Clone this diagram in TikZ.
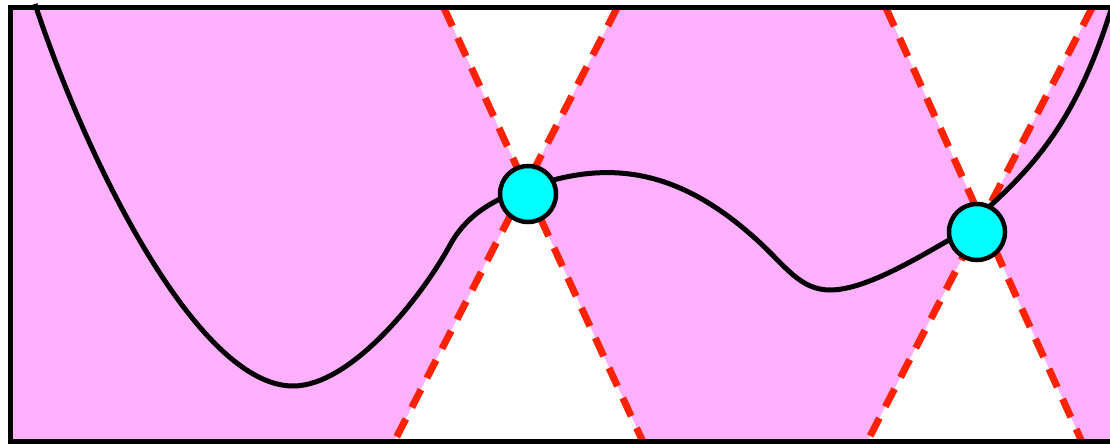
\documentclass[tikz,border=0pt]{standalone}
\usetikzlibrary{calc}
\definecolor{pinkfill}{RGB}{255,176,255}
\definecolor{conered}{RGB}{255,34,0}
\definecolor{dotcyan}{RGB}{0,255,255}
\tikzset{
  coneline/.style={draw=conered, line width=7pt, dash pattern=on 20pt off 13pt},
  curveline/.style={draw=black, line width=5pt, line join=round},
  pointdot/.style={circle, draw=black, fill=dotcyan, line width=4.5pt, minimum size=56pt, inner sep=0pt},
  frameline/.style={draw=black, line width=4.5pt}
}
\begin{document}
\begin{tikzpicture}[x=1pt,y=-1pt]
\useasboundingbox (0,0) rectangle (1110,444);
\clip (0,0) rectangle (1110,444);
% background inside the frame
\fill[pinkfill] (10.5,7.5) rectangle (1116,441.5);
% cone end points
\coordinate (a1) at (444,8);   \coordinate (a2) at (643,442);
\coordinate (b1) at (617,8);   \coordinate (b2) at (394,442);
\coordinate (c1) at (886,8);   \coordinate (c2) at (1082,442);
\coordinate (d1) at (1092,8);  \coordinate (d2) at (867,442);
\coordinate (apexA) at (intersection of a1--a2 and b1--b2);
\coordinate (apexB) at (intersection of c1--c2 and d1--d2);
% white cones
\fill[white] (a1) -- (b1) -- (apexA) -- cycle;
\fill[white] (b2) -- (a2) -- (apexA) -- cycle;
\fill[white] (c1) -- (d1) -- (apexB) -- cycle;
\fill[white] (d2) -- (c2) -- (apexB) -- cycle;
% dashed cone lines
\draw[coneline] (a1) -- (a2);
\draw[coneline] (b1) -- (b2);
\draw[coneline] (c1) -- (c2);
\draw[coneline] (d1) -- (d2);
% curve
\coordinate (cstart) at (35,4);
\coordinate (cend) at (1114,0);
\draw[curveline] (cstart)
  .. controls (90,170) and (200,386) .. (293,386)
  .. controls (350,386) and (420,300) .. (450,245)
  .. controls (465,217.5) and (490,200) .. (528,188)
  .. controls (610,158) and (680,170) .. (757,240)
  .. controls (785,265.5) and (800,290) .. (830,290)
  .. controls (870,290) and (930,250) .. (977,224)
  -- (990,206)
  .. controls (1040,160) and (1080,113) .. (cend);
% points
\node[pointdot] (p1) at (528,194) {};
\node[pointdot] (p2) at (977,232) {};
% frame
\draw[frameline] (10.5,7.5) rectangle (1116,441.5);
\end{tikzpicture}
\end{document}
